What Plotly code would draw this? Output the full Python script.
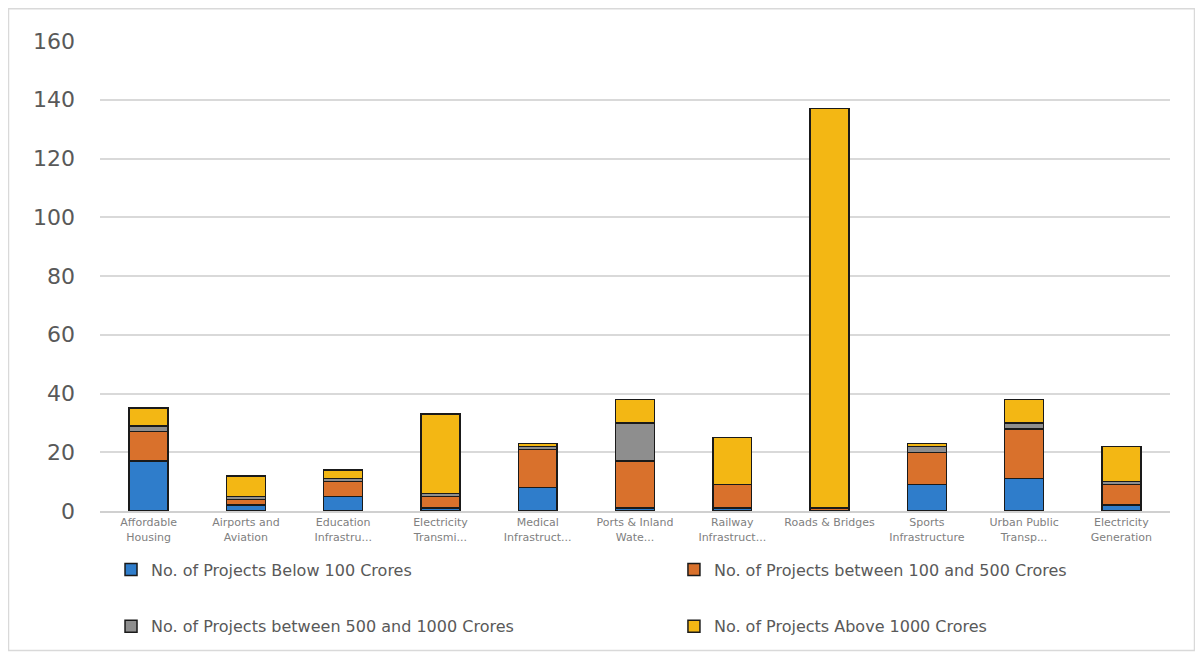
import plotly.graph_objects as go

categories = ["Affordable<br>Housing", "Airports and<br>Aviation", "Education<br>Infrastru...",
              "Electricity<br>Transmi...", "Medical<br>Infrastruct...", "Ports & Inland<br>Wate...",
              "Railway<br>Infrastruct...", "Roads & Bridges", "Sports<br>Infrastructure",
              "Urban Public<br>Transp...", "Electricity<br>Generation"]
below_100 = [17, 2, 5, 1, 8, 1, 1, 0, 9, 11, 2]
between_100_500 = [10, 2, 5, 4, 13, 16, 8, 1, 11, 17, 7]
between_500_1000 = [2, 1, 1, 1, 1, 13, 0, 0, 2, 2, 1]
above_1000 = [6, 7, 3, 27, 1, 8, 16, 136, 1, 8, 12]

series_names = ["No. of Projects Below 100 Crores", "No. of Projects between 100 and 500 Crores",
                "No. of Projects between 500 and 1000 Crores", "No. of Projects Above 1000 Crores"]
series_vals = [below_100, between_100_500, between_500_1000, above_1000]
colors = ["#2F7DCB", "#D9712C", "#8E8E8E", "#F3B714"]
legend_ids = ["legend", "legend2", "legend3", "legend4"]
legend_pos = [(0.0103, -0.1247), (0.5364, -0.1247), (0.0103, -0.2452), (0.5364, -0.2452)]

fig = go.Figure()
for name, vals, col, lg in zip(series_names, series_vals, colors, legend_ids):
    fig.add_trace(go.Bar(
        x=categories, y=vals, name=name, legend=lg, showlegend=True,
        marker=dict(color=col, line=dict(color="#1a1a1a", width=1.5)),
    ))

legend_layout = {}
for lg, (lx, ly) in zip(legend_ids, legend_pos):
    legend_layout[lg] = dict(orientation="h", x=lx, xanchor="left", y=ly, yanchor="middle",
                             bgcolor="rgba(0,0,0,0)", visible=True,
                             font=dict(family="DejaVu Sans", size=16, color="#595959"))

fig.update_layout(
    showlegend=True,
    barmode="stack",
    bargap=0.6,
    width=1187, height=647,
    margin=dict(l=92, r=25, t=33, b=141),
    plot_bgcolor="white", paper_bgcolor="white",
    font=dict(family="DejaVu Sans", color="#595959"),
    xaxis=dict(tickfont=dict(size=11, color="#808080"), showline=True, linecolor="#d0d0d0",
               linewidth=2, ticks="", tickangle=0),
    yaxis=dict(range=[0, 160], dtick=20, tickfont=dict(size=22, color="#595959"),
               gridcolor="#d9d9d9", gridwidth=2, zeroline=False, ticks="",
               ticklabelstandoff=24),
    shapes=[dict(type="rect", xref="paper", yref="paper", x0=-91.5 / 1070, x1=1 + 24.5 / 1070,
                 y0=-140.5 / 473, y1=1 + 32.5 / 473, line=dict(color="#d9d9d9", width=1.5),
                 layer="below")],
    **legend_layout,
)

fig.write_html("out.html")
